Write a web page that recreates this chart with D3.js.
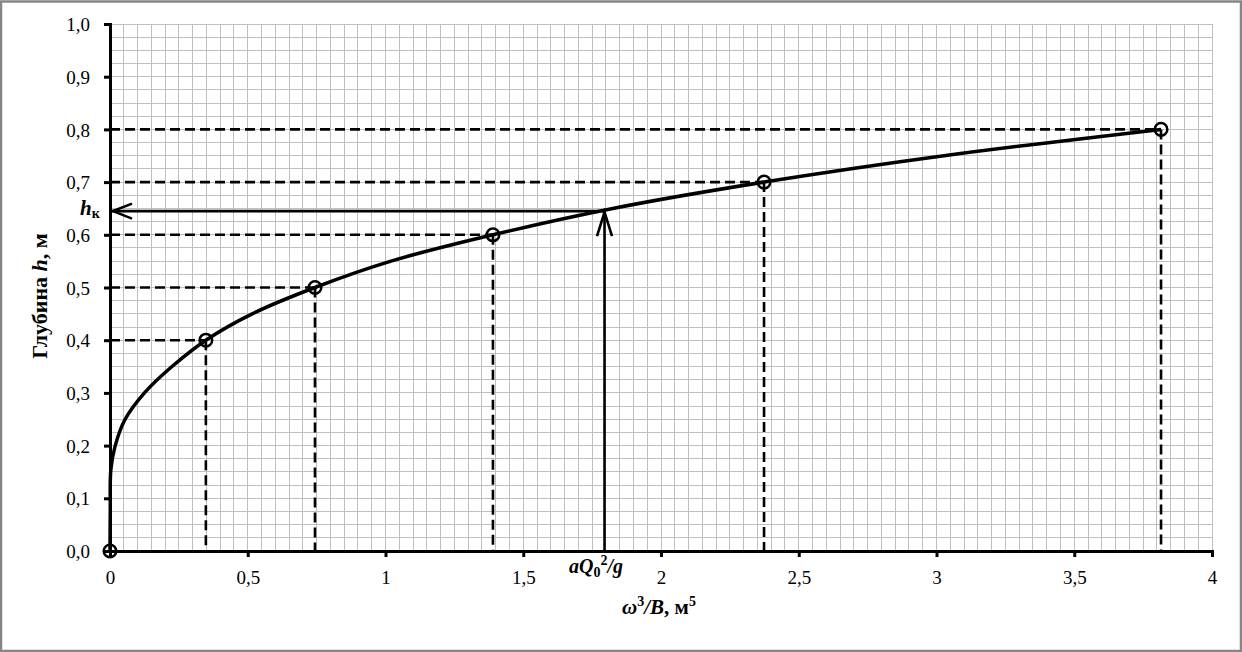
<!DOCTYPE html>
<html><head><meta charset="utf-8">
<script src="https://cdn.jsdelivr.net/npm/d3@7"></script>
<style>
html,body{margin:0;padding:0;background:#fff;}
svg{display:block;}
text{font-family:"Liberation Serif","Times New Roman",serif;fill:#000;}
</style></head>
<body>
<svg id="chart" width="1242" height="652"></svg>
<script>
// ---- data ----
const xTickValues = [0, 0.5, 1, 1.5, 2, 2.5, 3, 3.5, 4];
const xTickLabels = ["0", "0,5", "1", "1,5", "2", "2,5", "3", "3,5", "4"];
const yTickValues = [0, 0.1, 0.2, 0.3, 0.4, 0.5, 0.6, 0.7, 0.8, 0.9, 1.0];
const yTickLabels = ["0,0", "0,1", "0,2", "0,3", "0,4", "0,5", "0,6", "0,7", "0,8", "0,9", "1,0"];
// measured points (ω³/B, h)
const pointX = [0, 0.348, 0.744, 1.39, 2.374, 3.815];
const pointH = [0, 0.4, 0.5, 0.6, 0.7, 0.8];
// smooth curve
const curveX = [0, 0.001, 0.003, 0.018, 0.054, 0.125, 0.225, 0.348, 0.516, 0.744, 1.02, 1.39, 1.825, 2.374, 3.027, 3.815];
const curveH = [0, 0.08, 0.154, 0.198, 0.249, 0.3, 0.35, 0.4, 0.45, 0.5, 0.55, 0.6, 0.65, 0.7, 0.75, 0.8];
// critical depth construction
const criticalX = 1.795;
const criticalH = 0.645;

// ---- layout ----
const W = 1242, H = 652;
const pLeft = 110, pRight = 1212, pTop = 24, pBottom = 551;
const svg = d3.select("#chart");
const x = d3.scaleLinear().domain([0, 4]).range([pLeft, pRight]);
const y = d3.scaleLinear().domain([0, 1]).range([pBottom, pTop]);

// outer frame
svg.append("rect").attr("x", 1).attr("y", 1.5).attr("width", W - 2).attr("height", H - 2.5)
  .attr("fill", "#fff").attr("stroke", "#868686").attr("stroke-width", 2.5);

// grid
const grid = svg.append("g").attr("stroke", "#bfbfbf").attr("stroke-width", 1).attr("shape-rendering", "crispEdges");
d3.range(0, 81).forEach(i => {
  const xv = x(i * 0.05);
  grid.append("line").attr("x1", xv).attr("x2", xv).attr("y1", pTop).attr("y2", pBottom);
});
d3.range(0, 41).forEach(i => {
  const yv = y(i * 0.025);
  grid.append("line").attr("x1", pLeft).attr("x2", pRight).attr("y1", yv).attr("y2", yv);
});

// dashed guide lines
const pts = pointX.map((v, i) => ({x: v, h: pointH[i]})).filter(d => d.h > 0);
const guides = svg.append("g").attr("stroke", "#000").attr("stroke-width", 2.6).attr("stroke-dasharray", "10,5").attr("fill", "none");
pts.forEach(d => {
  guides.append("line").attr("x1", x(0)).attr("x2", x(d.x)).attr("y1", y(d.h)).attr("y2", y(d.h));
  guides.append("line").attr("x1", x(d.x)).attr("x2", x(d.x)).attr("y1", y(d.h)).attr("y2", y(0));
});

// axes
const yAxis = d3.axisLeft(y).tickValues(yTickValues).tickFormat((d, i) => yTickLabels[i]).tickSizeOuter(0).tickSize(6).tickPadding(14);
const xAxis = d3.axisBottom(x).tickValues(xTickValues).tickFormat((d, i) => xTickLabels[i]).tickSizeOuter(0).tickSize(6).tickPadding(14);
const gy = svg.append("g").attr("transform", `translate(${pLeft},0)`).call(yAxis);
const gx = svg.append("g").attr("transform", `translate(0,${pBottom})`).call(xAxis);
[gx, gy].forEach(g => {
  g.select(".domain").attr("stroke", "#000").attr("stroke-width", 3);
  g.selectAll(".tick line").attr("stroke", "#000").attr("stroke-width", 3);
  g.selectAll(".tick text").attr("font-family", "Liberation Serif").attr("font-size", 19).attr("fill", "#000");
});
gy.selectAll(".tick text").attr("dy", "0.35em");

// curve
const curveData = curveX.map((v, i) => ({x: v, h: curveH[i]}));
const line = d3.line().x(d => x(d.x)).y(d => y(d.h)).curve(d3.curveCatmullRom.alpha(0.5));
svg.append("path").datum(curveData).attr("d", line).attr("fill", "none")
  .attr("stroke", "#000").attr("stroke-width", 3.5).attr("stroke-linejoin", "round");

// arrows
const arr = svg.append("g").attr("stroke", "#000").attr("stroke-width", 2.6).attr("fill", "none");
arr.append("line").attr("x1", x(criticalX)).attr("x2", x(criticalX)).attr("y1", y(0)).attr("y2", y(criticalH));
arr.append("path").attr("d", `M${x(criticalX) - 7.5},${y(criticalH) + 25} L${x(criticalX)},${y(criticalH) + 1} L${x(criticalX) + 7.5},${y(criticalH) + 25}`);
arr.append("line").attr("x1", x(criticalX)).attr("x2", x(0) + 2).attr("y1", y(criticalH)).attr("y2", y(criticalH));
arr.append("path").attr("d", `M${x(0) + 22},${y(criticalH) - 7.5} L${x(0) + 3},${y(criticalH)} L${x(0) + 22},${y(criticalH) + 7.5}`);

// markers
svg.append("g").selectAll("circle").data(pointX.map((v, i) => ({x: v, h: pointH[i]}))).join("circle")
  .attr("cx", d => x(d.x)).attr("cy", d => y(d.h)).attr("r", 6.3)
  .attr("fill", "none").attr("stroke", "#000").attr("stroke-width", 2.5);

// labels
const hk = svg.append("text").attr("x", 80).attr("y", 215).attr("font-size", 21).attr("font-weight", "bold");
hk.append("tspan").attr("font-style", "italic").text("h");
hk.append("tspan").attr("font-size", 14).attr("dy", 3).text("к");

const aq = svg.append("text").attr("x", 569).attr("y", 573).attr("font-size", 20).attr("font-weight", "bold").attr("font-style", "italic");
aq.append("tspan").text("aQ");
aq.append("tspan").attr("font-size", 14).attr("dy", 4).attr("font-style", "normal").text("0");
aq.append("tspan").attr("font-size", 14).attr("dy", -12).attr("font-style", "normal").text("2");
aq.append("tspan").attr("dy", 8).text("/g");

const xt = svg.append("text").attr("x", 659).attr("y", 614).attr("text-anchor", "middle").attr("font-size", 21).attr("font-weight", "bold");
xt.append("tspan").attr("font-style", "italic").text("ω");
xt.append("tspan").attr("font-size", 14).attr("dy", -8).text("3");
xt.append("tspan").attr("dy", 8).attr("font-style", "italic").text("/B");
xt.append("tspan").text(", м");
xt.append("tspan").attr("font-size", 14).attr("dy", -8).text("5");

const yt = svg.append("text").attr("transform", "translate(47,296) rotate(-90)").attr("text-anchor", "middle")
  .attr("font-size", 22).attr("font-weight", "bold");
yt.append("tspan").text("Глубина ");
yt.append("tspan").attr("font-style", "italic").text("h");
yt.append("tspan").text(", м");
</script>
</body></html>
